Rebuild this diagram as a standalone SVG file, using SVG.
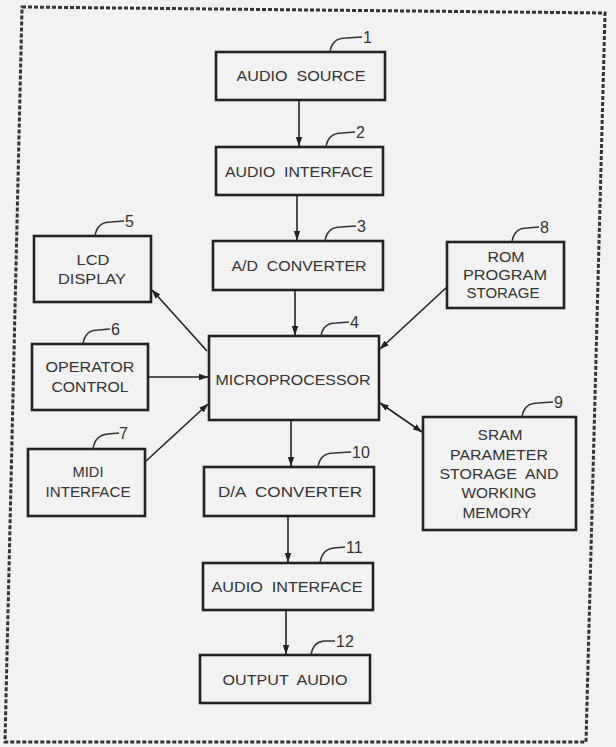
<svg xmlns="http://www.w3.org/2000/svg" width="616" height="747" viewBox="0 0 616 747">
<style>
  .box { fill: none; stroke: #222; stroke-width: 2.6; }
  .t { font-family: "Liberation Sans", "DejaVu Sans", sans-serif; font-size: 15px; fill: #333; text-anchor: middle; white-space: pre; }
  .n { font-family: "Liberation Sans", "DejaVu Sans", sans-serif; font-size: 16px; fill: #333; text-anchor: start; }
  .lead { fill: none; stroke: #333; stroke-width: 1.6; }
  .con { fill: none; stroke: #222; stroke-width: 1.6; }
</style>
<defs>
  <marker id="ah" markerUnits="userSpaceOnUse" markerWidth="10" markerHeight="8" refX="9" refY="4" orient="auto-start-reverse" viewBox="0 0 10 8">
    <path d="M0,0.8 L9.5,4 L0,7.2 Z" fill="#222"/>
  </marker>
</defs>
<rect x="0" y="0" width="616" height="747" fill="#f2f2f2"/>
<polygon points="22,7 605,13 586,742 5,742" fill="none" stroke="#333" stroke-width="3" stroke-dasharray="4 2"/>

<g id="connectors">
  <line class="con" x1="299" y1="100" x2="299" y2="146" marker-end="url(#ah)"/>
  <line class="con" x1="297" y1="195" x2="297" y2="240" marker-end="url(#ah)"/>
  <line class="con" x1="295" y1="290" x2="295" y2="335" marker-end="url(#ah)"/>
  <line class="con" x1="207" y1="351" x2="152" y2="290" marker-end="url(#ah)"/>
  <line class="con" x1="148" y1="377" x2="208" y2="377" marker-end="url(#ah)"/>
  <line class="con" x1="146" y1="461" x2="208" y2="404" marker-end="url(#ah)"/>
  <line class="con" x1="447" y1="287" x2="380" y2="349" marker-end="url(#ah)"/>
  <line class="con" x1="380" y1="403" x2="422" y2="432" marker-start="url(#ah)" marker-end="url(#ah)"/>
  <line class="con" x1="291" y1="420" x2="291" y2="466" marker-end="url(#ah)"/>
  <line class="con" x1="288" y1="516" x2="288" y2="562" marker-end="url(#ah)"/>
  <line class="con" x1="286" y1="610" x2="286" y2="654" marker-end="url(#ah)"/>
</g>

<g id="n1">
  <rect class="box" x="216" y="52" width="169" height="48"/>
  <text class="t" x="301" y="81" textLength="129" lengthAdjust="spacingAndGlyphs" xml:space="preserve">AUDIO  SOURCE</text>
  <path class="lead" d="M330,52 Q332,38 346,38 L362,37"/>
  <text class="n" x="363" y="43">1</text>
</g>
<g id="n2">
  <rect class="box" x="216" y="147" width="167" height="48"/>
  <text class="t" x="299" y="177" textLength="148" lengthAdjust="spacingAndGlyphs" xml:space="preserve">AUDIO  INTERFACE</text>
  <path class="lead" d="M326,147 Q328,133 342,133 L355,132"/>
  <text class="n" x="356" y="138">2</text>
</g>
<g id="n3">
  <rect class="box" x="213" y="241" width="170" height="49"/>
  <text class="t" x="299" y="271" textLength="135" lengthAdjust="spacingAndGlyphs" xml:space="preserve">A/D  CONVERTER</text>
  <path class="lead" d="M325,241 Q327,227 341,227 L356,226"/>
  <text class="n" x="357" y="232">3</text>
</g>
<g id="n4">
  <rect class="box" x="209" y="336" width="170" height="84"/>
  <text class="t" x="293" y="385" textLength="155" lengthAdjust="spacingAndGlyphs">MICROPROCESSOR</text>
  <path class="lead" d="M321,336 Q323,323 336,323 L349,322"/>
  <text class="n" x="350" y="328">4</text>
</g>
<g id="n5">
  <rect class="box" x="34" y="236" width="117" height="66"/>
  <text class="t" x="93" y="265" textLength="33" lengthAdjust="spacingAndGlyphs">LCD</text>
  <text class="t" x="92" y="284" textLength="68" lengthAdjust="spacingAndGlyphs">DISPLAY</text>
  <path class="lead" d="M95,236 Q97,222 111,222 L124,221"/>
  <text class="n" x="125" y="227">5</text>
</g>
<g id="n6">
  <rect class="box" x="32" y="344" width="116" height="66"/>
  <text class="t" x="90" y="372" textLength="89" lengthAdjust="spacingAndGlyphs">OPERATOR</text>
  <text class="t" x="90" y="392" textLength="77" lengthAdjust="spacingAndGlyphs">CONTROL</text>
  <path class="lead" d="M83,344 Q85,330 98,330 L110,329"/>
  <text class="n" x="111" y="335">6</text>
</g>
<g id="n7">
  <rect class="box" x="28" y="449" width="117" height="67"/>
  <text class="t" x="88" y="477" textLength="31" lengthAdjust="spacingAndGlyphs">MIDI</text>
  <text class="t" x="88" y="497" textLength="85" lengthAdjust="spacingAndGlyphs">INTERFACE</text>
  <path class="lead" d="M93,449 Q95,435 108,434 L119,433"/>
  <text class="n" x="119" y="439">7</text>
</g>
<g id="n8">
  <rect class="box" x="447" y="242" width="117" height="66"/>
  <text class="t" x="506" y="262" textLength="37" lengthAdjust="spacingAndGlyphs">ROM</text>
  <text class="t" x="505" y="280" textLength="84" lengthAdjust="spacingAndGlyphs">PROGRAM</text>
  <text class="t" x="503" y="298" textLength="73" lengthAdjust="spacingAndGlyphs">STORAGE</text>
  <path class="lead" d="M512,242 Q514,228 527,228 L539,227"/>
  <text class="n" x="540" y="233">8</text>
</g>
<g id="n9">
  <rect class="box" x="423" y="417" width="153" height="113"/>
  <text class="t" x="500" y="440" textLength="45" lengthAdjust="spacingAndGlyphs">SRAM</text>
  <text class="t" x="499" y="460" textLength="98" lengthAdjust="spacingAndGlyphs">PARAMETER</text>
  <text class="t" x="499" y="479" textLength="119" lengthAdjust="spacingAndGlyphs" xml:space="preserve">STORAGE  AND</text>
  <text class="t" x="499" y="498" textLength="75" lengthAdjust="spacingAndGlyphs">WORKING</text>
  <text class="t" x="497" y="518" textLength="69" lengthAdjust="spacingAndGlyphs">MEMORY</text>
  <path class="lead" d="M522,417 Q524,403 538,403 L553,402"/>
  <text class="n" x="554" y="408">9</text>
</g>
<g id="n10">
  <rect class="box" x="204" y="467" width="170" height="49"/>
  <text class="t" x="290" y="497" textLength="144" lengthAdjust="spacingAndGlyphs" xml:space="preserve">D/A  CONVERTER</text>
  <path class="lead" d="M318,467 Q320,453 334,453 L351,452"/>
  <text class="n" x="352" y="458">10</text>
</g>
<g id="n11">
  <rect class="box" x="203" y="563" width="170" height="47"/>
  <text class="t" x="287" y="592" textLength="151" lengthAdjust="spacingAndGlyphs" xml:space="preserve">AUDIO  INTERFACE</text>
  <path class="lead" d="M320,563 Q322,549 334,548 L345,547"/>
  <text class="n" x="346" y="553">11</text>
</g>
<g id="n12">
  <rect class="box" x="200" y="655" width="170" height="48"/>
  <text class="t" x="285" y="685" textLength="125" lengthAdjust="spacingAndGlyphs" xml:space="preserve">OUTPUT  AUDIO</text>
  <path class="lead" d="M311,655 Q313,642 324,641 L335,641"/>
  <text class="n" x="336" y="647">12</text>
</g>
</svg>
